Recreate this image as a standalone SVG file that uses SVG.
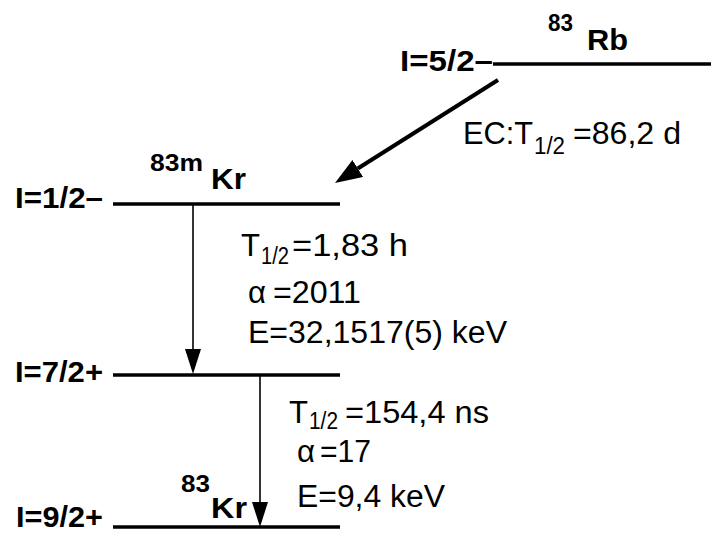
<svg xmlns="http://www.w3.org/2000/svg" width="711" height="534" viewBox="0 0 711 534">
  <style>
    .lvl { stroke: #000; stroke-width: 3.5; fill: none; }
    .b { font-family: "Liberation Sans", Arial, sans-serif; font-weight: bold; fill: #000; }
    .r { font-family: "Liberation Sans", Arial, sans-serif; fill: #000; }
    .lab { font-size: 30px; }
    .nuc { font-size: 29px; }
    .sup { font-size: 23px; }
    .txt { font-size: 31px; }
    .sub { font-size: 23px; }
    .thin { stroke: #000; stroke-width: 1.6; fill: none; }
    .thick { stroke: #000; stroke-width: 4; fill: none; }
  </style>
  <defs>
    <marker id="headBig" markerUnits="userSpaceOnUse" markerWidth="28" markerHeight="22" refX="0" refY="10" orient="auto">
      <path d="M0,0 L27,10 L0,20 z" fill="#000"/>
    </marker>
    <marker id="headThin" markerUnits="userSpaceOnUse" markerWidth="26" markerHeight="18" refX="0" refY="8" orient="auto">
      <path d="M0,0 L25,8 L0,16 z" fill="#000"/>
    </marker>
  </defs>
  <rect width="711" height="534" fill="#fff"/>

  <g id="rb83">
    <line class="lvl" x1="493" y1="64" x2="711" y2="64"/>
    <text class="b lab" x="400" y="71" textLength="93" lengthAdjust="spacingAndGlyphs">I=5/2–</text>
    <text class="b sup" x="548" y="31" textLength="25" lengthAdjust="spacingAndGlyphs">83</text>
    <text class="b nuc" x="587" y="50" textLength="41" lengthAdjust="spacingAndGlyphs">Rb</text>
  </g>

  <g id="kr83m">
    <line class="lvl" x1="113" y1="204" x2="340" y2="204"/>
    <text class="b lab" x="15" y="208" textLength="88" lengthAdjust="spacingAndGlyphs">I=1/2–</text>
    <text class="b sup" x="150" y="171" textLength="53" lengthAdjust="spacingAndGlyphs">83m</text>
    <text class="b nuc" x="211" y="189" textLength="35" lengthAdjust="spacingAndGlyphs">Kr</text>
  </g>

  <g id="kr72">
    <line class="lvl" x1="113" y1="375" x2="340" y2="375"/>
    <text class="b lab" x="15" y="382" textLength="88" lengthAdjust="spacingAndGlyphs">I=7/2+</text>
  </g>

  <g id="kr83">
    <line class="lvl" x1="113" y1="527" x2="340" y2="527"/>
    <text class="b lab" x="16" y="527" textLength="87" lengthAdjust="spacingAndGlyphs">I=9/2+</text>
    <text class="b sup" x="181" y="492" textLength="29" lengthAdjust="spacingAndGlyphs">83</text>
    <text class="b nuc" x="211" y="518" textLength="36" lengthAdjust="spacingAndGlyphs">Kr</text>
  </g>

  <g id="connectors">
    <line class="thick" x1="498" y1="80" x2="357.8" y2="168.5" marker-end="url(#headBig)"/>
    <line class="thin" x1="193" y1="204" x2="193" y2="349" marker-end="url(#headThin)"/>
    <line class="thin" x1="260" y1="375" x2="260" y2="502" marker-end="url(#headThin)"/>
  </g>

  <g id="ec-label">
    <text class="r txt" x="463" y="144" textLength="70" lengthAdjust="spacingAndGlyphs">EC:T</text>
    <text class="r sub" x="534" y="154" textLength="31" lengthAdjust="spacingAndGlyphs">1/2</text>
    <text class="r txt" x="573" y="144" textLength="108" lengthAdjust="spacingAndGlyphs">=86,2 d</text>
  </g>

  <g id="m1-label">
    <text class="r txt" x="241" y="256" textLength="19" lengthAdjust="spacingAndGlyphs">T</text>
    <text class="r sub" x="261" y="264" textLength="28" lengthAdjust="spacingAndGlyphs">1/2</text>
    <text class="r txt" x="292" y="256" textLength="116" lengthAdjust="spacingAndGlyphs">=1,83 h</text>
    <text class="r txt" x="248" y="303" textLength="18" lengthAdjust="spacingAndGlyphs">α</text>
    <text class="r txt" x="273" y="303" textLength="88" lengthAdjust="spacingAndGlyphs">=2011</text>
    <text class="r txt" x="248" y="343" textLength="259" lengthAdjust="spacingAndGlyphs">E=32,1517(5) keV</text>
  </g>

  <g id="m2-label">
    <text class="r txt" x="289" y="423" textLength="19" lengthAdjust="spacingAndGlyphs">T</text>
    <text class="r sub" x="309" y="429" textLength="29" lengthAdjust="spacingAndGlyphs">1/2</text>
    <text class="r txt" x="345" y="423" textLength="144" lengthAdjust="spacingAndGlyphs">=154,4 ns</text>
    <text class="r txt" x="297" y="462" textLength="18" lengthAdjust="spacingAndGlyphs">α</text>
    <text class="r txt" x="320" y="462" textLength="51" lengthAdjust="spacingAndGlyphs">=17</text>
    <text class="r txt" x="297" y="507" textLength="148" lengthAdjust="spacingAndGlyphs">E=9,4 keV</text>
  </g>
</svg>
